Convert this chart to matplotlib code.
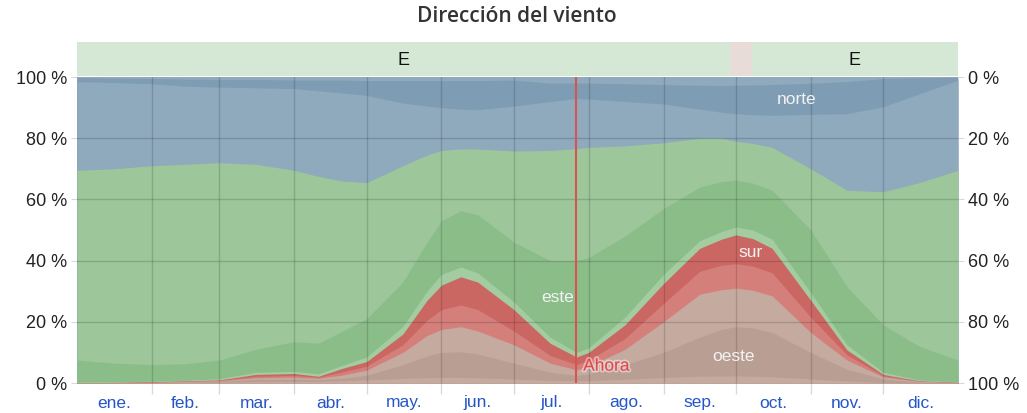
import matplotlib.pyplot as plt
import matplotlib.patheffects as pe

# dias del anio donde se leyeron los valores
dias = [0, 15, 31, 45, 59, 74, 90, 100, 110, 120, 135, 145, 151, 159, 166, 181, 196,
        207, 212, 227, 243, 258, 267, 273, 280, 288, 304, 319, 334, 349, 365]

# limites acumulados (%) de cada sub-banda, de abajo hacia arriba
oeste_1 = [0, 0, 0, 0.1, 0.2, 0.4, 0.5, 0.5, 0.7, 1, 1.5, 1.7, 1.8, 1.8, 1.7, 1.3, 0.8,
           0.7, 0.8, 1.2, 1.8, 2.2, 2.3, 2.3, 2.2, 2, 1.3, 0.6, 0.2, 0, 0]
oeste_2 = [0, 0, 0.1, 0.3, 0.5, 1.2, 1.3, 1.1, 1.6, 2.5, 6, 8.8, 10, 10.2, 9.5, 6.5, 3.5,
           2.5, 3, 6, 10, 15, 17.5, 18.4, 18, 16.5, 10, 4.5, 1.3, 0.3, 0]
oeste_3 = [0, 0.1, 0.2, 0.5, 0.7, 1.7, 1.9, 1.5, 2.6, 4.2, 10, 15.5, 17.5, 18.4, 17, 12.5, 6.5,
           4.3, 5.5, 11, 20, 29, 30.5, 31, 30.3, 28.5, 16.5, 7.5, 2, 0.5, 0.1]
sur_1 = [0.1, 0.1, 0.3, 0.6, 0.9, 2.2, 2.5, 1.9, 3.6, 5.5, 12.5, 20.5, 24, 25.5, 24, 17, 9,
         6, 7.5, 14.5, 26, 36.5, 38.5, 39, 38.2, 36, 21.5, 9.2, 2.4, 0.6, 0.1]
sur_2 = [0.1, 0.2, 0.4, 0.7, 1, 2.8, 3.1, 2.2, 4.8, 7, 16, 27, 32, 34.7, 33, 24, 13,
         8.5, 10, 19, 32.5, 44, 47, 48.4, 47.2, 44, 27, 10.8, 2.8, 0.7, 0.2]
este_1 = [0.3, 0.4, 0.6, 0.9, 1.4, 3.5, 3.8, 3, 5.8, 8.5, 18.5, 30, 35.5, 37.9, 36, 26.5, 15,
          10, 11.5, 21.5, 35.5, 46.5, 49.5, 51, 50, 47, 29.5, 12.5, 3.5, 1, 0.3]
este_2 = [7.5, 6.5, 6, 6.3, 7.5, 11, 13.5, 13, 17, 21, 33, 46, 53, 56.3, 55, 46, 40,
          40, 41, 48, 57, 64, 65.8, 66.3, 65.3, 63, 50, 31.5, 19, 12, 7.5]
este_3 = [69.5, 70, 71, 71.5, 72, 71.5, 69.5, 67.5, 66, 65.5, 71, 74.5, 76, 76.5, 76.5, 75.8, 76,
          76.6, 77, 77.5, 78.5, 80, 80, 79, 78.3, 77, 70, 63, 62.5, 65.5, 69.5]
norte_1 = [98.5, 98.2, 97.8, 97, 96.7, 96.5, 96.2, 95.5, 94.8, 94, 91.5, 90.5, 90, 89.5, 89.3, 90.5, 92,
           93, 92.8, 92, 91.2, 89.5, 88.5, 88, 87.7, 87.5, 87.8, 88, 90.3, 94.5, 99]
norte_2 = [99.8, 99.6, 99.5, 99.3, 99.2, 99.2, 99, 99, 99, 98.8, 98.8, 98.8, 98.8, 98.8, 98.8, 99, 98,
           98, 98, 97.8, 97.5, 97.3, 97.2, 97.3, 97.4, 97.5, 98, 98.5, 99.5, 99.7, 99.9]
tope = [100] * len(dias)

meses = ["ene.", "feb.", "mar.", "abr.", "may.", "jun.", "jul.", "ago.", "sep.", "oct.", "nov.", "dic."]
inicio_mes = [0, 31, 59, 90, 120, 151, 181, 212, 243, 273, 304, 334, 365]
hoy = 206.7

# franja superior: direccion dominante
franja_ini = [0, 270.5, 279.5]
franja_fin = [270.5, 279.5, 365]
franja_dir = ["E", "S", "E"]

# (tope de la capa, color), de arriba hacia abajo
capas = [
    (tope, "#8fa9bd"),
    (norte_2, "#7e9cb3"),
    (norte_1, "#8fa9bd"),
    (este_3, "#9dc69b"),
    (este_2, "#8bbd89"),
    (este_1, "#a3cca1"),
    (sur_2, "#cb6763"),
    (sur_1, "#d57f7b"),
    (oeste_3, "#c5aaa0"),
    (oeste_2, "#b99f93"),
    (oeste_1, "#c5aaa0"),
]

fig = plt.figure(figsize=(10.27, 4.13), dpi=100)
ax = fig.add_axes([77/1027, 30/413, 881/1027, 306/413])

# cada capa se pinta desde 0 y la siguiente la tapa: sin costuras
for arriba, color in capas:
    ax.fill_between(dias, 0, arriba, color=color, linewidth=0)

ax.set_xlim(0, 365)
ax.set_ylim(0, 100)

grid_c = (0, 0, 0, 0.15)
for d in inicio_mes[1:-1]:
    ax.axvline(d, color=grid_c, linewidth=1)
for v in [20, 40, 60, 80]:
    ax.axhline(v, color=grid_c, linewidth=1)

ax.axvline(hoy, color="#d9534f", linewidth=1.5)

for s in ax.spines.values():
    s.set_visible(False)

ax.set_xticks(inicio_mes[1:-1])
ax.set_xticklabels([])
ax.tick_params(axis="x", which="major", length=8, color=grid_c, width=1)
centros = [(inicio_mes[i] + inicio_mes[i + 1]) / 2 for i in range(12)]
ax.set_xticks(centros, minor=True)
ax.set_xticklabels(meses, minor=True, color="#2456c8", fontsize=12.5, family="Liberation Sans")
ax.tick_params(axis="x", which="minor", length=0, pad=9)

ax.set_yticks([0, 20, 40, 60, 80, 100])
ax.set_yticklabels(["0 %", "20 %", "40 %", "60 %", "80 %", "100 %"], fontsize=13,
                   family="Liberation Sans", color="#222222")
ax.tick_params(axis="y", length=4, color=grid_c, pad=3)

ax2 = ax.twinx()
ax2.set_ylim(0, 100)
ax2.set_yticks([0, 20, 40, 60, 80, 100])
ax2.set_yticklabels(["100 %", "80 %", "60 %", "40 %", "20 %", "0 %"], fontsize=13,
                    family="Liberation Sans", color="#222222")
ax2.tick_params(axis="y", length=4, color=grid_c, pad=3)
for s in ax2.spines.values():
    s.set_visible(False)

# etiquetas de las bandas
txt = dict(color="#f2f2f2", fontsize=12.5, family="Liberation Sans", ha="center", va="center")
ax.text(298, 92.5, "norte", **txt)
ax.text(199, 28, "este", **txt)
ax.text(279, 42.5, "sur", **txt)
ax.text(272, 8.8, "oeste", **txt)
ax.text(hoy + 3, 5.5, "Ahora", color="#e0474c", fontsize=12.5, family="Liberation Sans",
        ha="left", va="center",
        path_effects=[pe.withStroke(linewidth=2.5, foreground=(1, 1, 1, 0.45))])

# franja de direccion dominante
axb = fig.add_axes([77/1027, 337/413, 881/1027, 34/413])
axb.set_xlim(0, 365)
axb.set_ylim(0, 1)
for a, b, d in zip(franja_ini, franja_fin, franja_dir):
    axb.axvspan(a, b, color="#d5e8d5" if d == "E" else "#e8dcd8", linewidth=0)
    if b - a > 30:
        axb.text((a + b) / 2, 0.45, d, ha="center", va="center", fontsize=13,
                 family="Liberation Sans", color="#111111")
axb.axis("off")

fig.suptitle("Dirección del viento", x=0.503, y=0.985, fontsize=15, family="Open Sans",
             fontweight="semibold", color="#333333")

plt.savefig("out.png", dpi=100)
